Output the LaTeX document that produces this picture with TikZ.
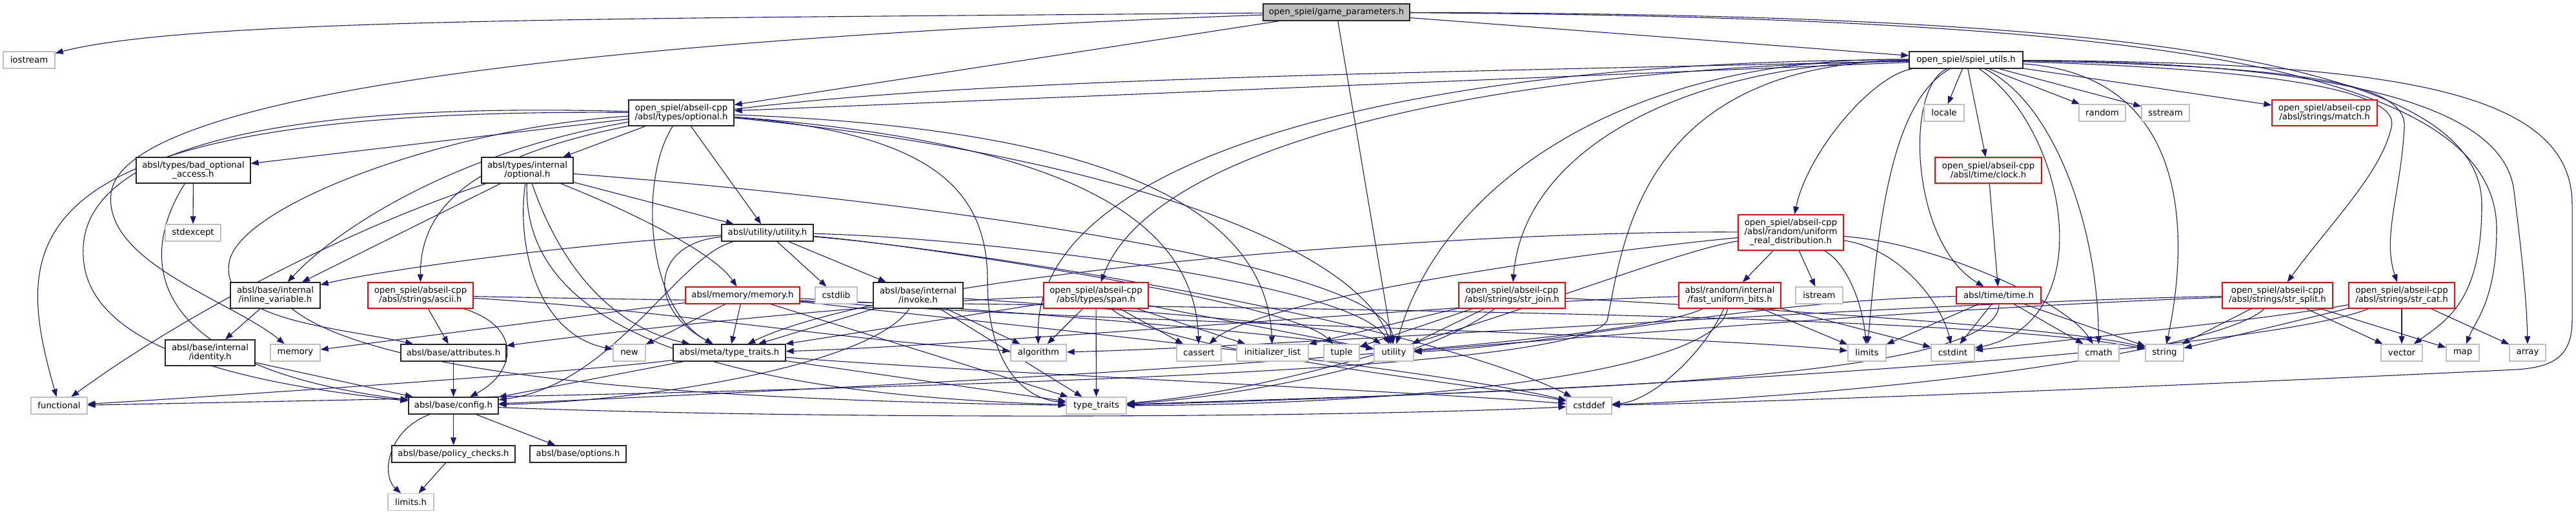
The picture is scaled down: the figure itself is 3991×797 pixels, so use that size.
\documentclass[tikz,border=0pt]{standalone}
\usepackage{fontspec}
\usepackage{tikz}
\usetikzlibrary{arrows.meta}
\newfontfamily\dotfont{DejaVu Sans}
\definecolor{edgeblue}{HTML}{191970}
\definecolor{sysgray}{HTML}{BFBFBF}
\definecolor{truncred}{HTML}{FF0000}
\pgfdeclarelayer{background}
\pgfsetlayers{background,main}

\begin{document}
\begin{tikzpicture}[x=1pt, y=1pt,
    file/.style={draw=black!85, line width=1.3pt, fill=white, inner sep=1pt, align=center,
      font=\dotfont\fontsize{13.3}{14}\selectfont, minimum height=26pt},
    sysfile/.style={file, draw=sysgray},
    trunc/.style={file, draw=truncred},
    rootfile/.style={file, fill=sysgray},
    dep/.style={draw=edgeblue, line width=1.1pt, -{Triangle[length=12pt,width=9pt]}}]
    \useasboundingbox (0,0) rectangle (3991,797);

    % top rows
    \node[rootfile, minimum width=227pt] (gp) at (2070.5,778) {open\_spiel/game\_parameters.h};
    \node[sysfile, minimum width=80pt] (iostream) at (45,704) {iostream};
    \node[file, minimum width=176pt] (su) at (3046,704) {open\_spiel/spiel\_utils.h};
    \node[file, minimum width=163pt, minimum height=40pt] (opt) at (1055.5,622) {open\_spiel/abseil-cpp\\/absl/types/optional.h};
    \node[sysfile, minimum width=62pt] (locale) at (3012,622) {locale};
    \node[sysfile, minimum width=72pt] (random) at (3257,622) {random};
    \node[sysfile, minimum width=74pt] (sstream) at (3355,622) {sstream};
    \node[trunc, minimum width=163pt, minimum height=40pt] (match) at (3601.5,622) {open\_spiel/abseil-cpp\\/absl/strings/match.h};
    \node[file, minimum width=177pt, minimum height=40pt] (bad) at (299.5,533) {absl/types/bad\_optional\\\_access.h};
    \node[file, minimum width=142pt, minimum height=40pt] (iopt) at (817,533) {absl/types/internal\\/optional.h};
    \node[trunc, minimum width=165pt, minimum height=40pt] (clock) at (3080.5,533) {open\_spiel/abseil-cpp\\/absl/time/clock.h};
    \node[sysfile, minimum width=86pt] (stdexcept) at (299,436) {stdexcept};
    \node[file, minimum width=142pt] (uh) at (1189,436) {absl/utility/utility.h};
    \node[trunc, minimum width=163pt, minimum height=55pt] (urd) at (2774.5,436.5) {open\_spiel/abseil-cpp\\/absl/random/uniform\\\_real\_distribution.h};

    % middle row
    \node[file, minimum width=139pt, minimum height=40pt] (inl) at (426.5,339) {absl/base/internal\\/inline\_variable.h};
    \node[trunc, minimum width=163pt, minimum height=40pt] (ascii) at (651.5,339) {open\_spiel/abseil-cpp\\/absl/strings/ascii.h};
    \node[trunc, minimum width=177pt] (mem) at (1150.5,339) {absl/memory/memory.h};
    \node[sysfile, minimum width=65pt] (cstdlib) at (1295.5,339) {cstdlib};
    \node[file, minimum width=139pt, minimum height=40pt] (inv) at (1422.5,339) {absl/base/internal\\/invoke.h};
    \node[trunc, minimum width=162pt, minimum height=40pt] (span) at (1698,339) {open\_spiel/abseil-cpp\\/absl/types/span.h};
    \node[trunc, minimum width=165pt, minimum height=40pt] (join) at (2342.5,339) {open\_spiel/abseil-cpp\\/absl/strings/str\_join.h};
    \node[trunc, minimum width=158pt, minimum height=40pt] (fub) at (2680,339) {absl/random/internal\\/fast\_uniform\_bits.h};
    \node[sysfile, minimum width=73pt] (istream) at (2818.5,339) {istream};
    \node[trunc, minimum width=131pt] (time) at (3096.5,339) {absl/time/time.h};
    \node[trunc, minimum width=171pt, minimum height=40pt] (split) at (3528.5,339) {open\_spiel/abseil-cpp\\/absl/strings/str\_split.h};
    \node[trunc, minimum width=164pt, minimum height=40pt] (cat) at (3721,339) {open\_spiel/abseil-cpp\\/absl/strings/str\_cat.h};

    % leaf row
    \node[file, minimum width=139pt, minimum height=40pt] (ident) at (325.5,250) {absl/base/internal\\/identity.h};
    \node[sysfile, minimum width=77pt] (memory) at (457.5,250) {memory};
    \node[file, minimum width=163pt] (attr) at (702.5,250) {absl/base/attributes.h};
    \node[sysfile, minimum width=50pt] (new) at (975,250) {new};
    \node[file, minimum width=174pt] (mtt) at (1130,250) {absl/meta/type\_traits.h};
    \node[sysfile, minimum width=86pt] (algorithm) at (1609,250) {algorithm};
    \node[sysfile, minimum width=69pt] (cassert) at (1857.5,250) {cassert};
    \node[sysfile, minimum width=111pt] (initlist) at (1971.5,250) {initializer\_list};
    \node[sysfile, minimum width=55pt] (tuple) at (2078.5,250) {tuple};
    \node[sysfile, minimum width=61pt] (utility) at (2159.5,250) {utility};
    \node[sysfile, minimum width=59pt] (limits) at (2892.5,250) {limits};
    \node[sysfile, minimum width=67pt] (cstdint) at (3025.5,250) {cstdint};
    \node[sysfile, minimum width=63pt] (cmath) at (3251.5,250) {cmath};
    \node[sysfile, minimum width=59pt] (string) at (3353.5,250) {string};
    \node[sysfile, minimum width=64pt] (vector) at (3721,250) {vector};
    \node[sysfile, minimum width=51pt] (map) at (3815.5,250) {map};
    \node[sysfile, minimum width=56pt] (array) at (3916,250) {array};

    % bottom rows
    \node[sysfile, minimum width=87pt] (functional) at (91.5,168) {functional};
    \node[file, minimum width=139pt] (config) at (702.5,168) {absl/base/config.h};
    \node[sysfile, minimum width=93pt] (tt) at (1698.5,168) {type\_traits};
    \node[sysfile, minimum width=70pt] (cstddef) at (2462,168) {cstddef};
    \node[file, minimum width=191pt] (policy) at (702.5,93) {absl/base/policy\_checks.h};
    \node[file, minimum width=149pt] (options) at (895.5,93) {absl/base/options.h};
    \node[sysfile, minimum width=71pt] (limitsh) at (636.5,18.5) {limits.h};

    \begin{pgfonlayer}{background}
    \fill[white] (0,0) rectangle (3991,797);
    % game_parameters.h
    \draw[dep] (gp) .. controls (1000,768) and (300,770) .. (iostream);
    \draw[dep] (gp) .. controls (900,735) and (190,650) .. (172,497) .. controls (160,390) and (360,330) .. (memory);
    \draw[dep] (gp) -- (opt);
    \draw[dep] (gp) -- (utility);
    \draw[dep] (gp) -- (su);
    \draw[dep] (gp) .. controls (3200,775) and (3845,720) .. (3845,480) .. controls (3845,330) and (3790,300) .. (vector);
    \draw[dep] (gp) .. controls (3300,770) and (3870,700) .. (3868,440) .. controls (3867,330) and (3835,300) .. (map);
    % spiel_utils.h
    \draw[dep] (su) -- (opt);
    \draw[dep] (su) .. controls (1300,665) and (650,665) .. (ascii);
    \draw[dep] (su) .. controls (2250,690) and (1780,560) .. (span);
    \draw[dep] (su) .. controls (2200,705) and (1600,560) .. (algorithm);
    \draw[dep] (su) .. controls (2600,700) and (2360,560) .. (join);
    \draw[dep] (su) .. controls (2500,710) and (2230,500) .. (utility);
    \draw[dep] (su) .. controls (2540,700) and (2515,420) .. (2490,300) .. controls (2450,220) and (1500,195) .. (functional);
    \draw[dep] (su) .. controls (2900,680) and (2800,560) .. (urd);
    \draw[dep] (su) -- (locale);
    \draw[dep] (su) -- (random);
    \draw[dep] (su) -- (sstream);
    \draw[dep] (su) -- (match);
    \draw[dep] (su) -- (clock);
    \draw[dep] (su) .. controls (2950,660) and (2960,420) .. (time);
    \draw[dep] (su) .. controls (3200,600) and (3260,300) .. (cstdint);
    \draw[dep] (su) .. controls (3180,640) and (3250,450) .. (cmath);
    \draw[dep] (su) .. controls (3400,680) and (3390,420) .. (string);
    \draw[dep] (su) .. controls (3500,690) and (3720,660) .. (3705,600) .. controls (3690,530) and (3610,450) .. (split);
    \draw[dep] (su) .. controls (3550,695) and (3730,670) .. (3725,600) .. controls (3720,500) and (3690,430) .. (cat);
    \draw[dep] (su) .. controls (3600,700) and (3880,640) .. (3895,500) .. controls (3905,420) and (3915,330) .. (array);
    \draw[dep] (su) .. controls (2930,640) and (2910,450) .. (limits);
    \draw[dep] (su) .. controls (3700,700) and (3985,660) .. (3985,480) -- (3985,300)
      .. controls (3985,240) and (3950,228) .. (3900,224) .. controls (3400,200) and (2800,175) .. (cstddef);
    % optional.h
    \draw[dep] (opt) -- (bad);
    \draw[dep] (opt) -- (iopt);
    \draw[dep] (opt) .. controls (0,630) and (20,420) .. (functional);
    \draw[dep] (opt) .. controls (400,640) and (120,560) .. (129,400) .. controls (135,250) and (400,200) .. (config);
    \draw[dep] (opt) .. controls (700,600) and (370,480) .. (355,390) .. controls (340,300) and (520,290) .. (attr);
    \draw[dep] (opt) .. controls (700,560) and (520,440) .. (inl);
    \draw[dep] (opt) -- (uh);
    \draw[dep] (opt) .. controls (1450,590) and (1530,500) .. (1530,360) .. controls (1530,240) and (1580,180) .. (tt);
    \draw[dep] (opt) .. controls (1600,580) and (1850,480) .. (cassert);
    \draw[dep] (opt) .. controls (1650,600) and (1960,500) .. (initlist);
    \draw[dep] (opt) .. controls (1700,560) and (2100,420) .. (utility);
    \draw[dep] (opt) .. controls (990,520) and (1000,320) .. (mtt);
    % bad_optional_access.h
    \draw[dep] (bad) -- (stdexcept);
    \draw[dep] (bad) .. controls (215,400) and (215,230) .. (config);
    % internal/optional.h
    \draw[dep] (iopt) .. controls (560,450) and (300,320) .. (functional);
    \draw[dep] (iopt) -- (inl);
    \draw[dep] (iopt) .. controls (800,420) and (830,280) .. (new);
    \draw[dep] (iopt) .. controls (810,330) and (1000,190) .. (tt);
    \draw[dep] (iopt) .. controls (870,380) and (950,290) .. (mtt);
    \draw[dep] (iopt) .. controls (1000,460) and (1110,400) .. (mem);
    \draw[dep] (iopt) -- (uh);
    \draw[dep] (iopt) .. controls (1500,480) and (2150,380) .. (utility);
    % utility.h
    \draw[dep] (uh) -- (cstdlib);
    \draw[dep] (uh) -- (inv);
    \draw[dep] (uh) .. controls (900,420) and (600,380) .. (inl);
    \draw[dep] (uh) .. controls (1010,420) and (1000,320) .. (mtt);
    \draw[dep] (uh) .. controls (1050,400) and (950,200) .. (config);
    \draw[dep] (uh) .. controls (1400,420) and (2000,330) .. (tuple);
    \draw[dep] (uh) .. controls (1500,430) and (2100,360) .. (utility);
    \draw[dep] (uh) .. controls (1500,410) and (2200,300) .. (cstddef);
    % inline_variable.h, identity.h, attributes.h
    \draw[dep] (inl) -- (ident);
    \draw[dep] (inl) .. controls (600,200) and (1200,175) .. (tt);
    \draw[dep] (ident) -- (config);
    \draw[dep] (attr) -- (config);
    % ascii.h
    \draw[dep] (ascii) -- (attr);
    \draw[dep] (ascii) .. controls (810,290) and (800,220) .. (config);
    \draw[dep] (ascii) .. controls (1000,320) and (1300,270) .. (algorithm);
    \draw[dep] (ascii) .. controls (1600,320) and (3000,320) .. (string);
    % memory.h
    \draw[dep] (mem) -- (memory);
    \draw[dep] (mem) -- (new);
    \draw[dep] (mem) -- (mtt);
    \draw[dep] (mem) -- (tt);
    \draw[dep] (mem) .. controls (1500,300) and (2200,230) .. (cstddef);
    \draw[dep] (mem) .. controls (1600,300) and (2600,280) .. (limits);
    \draw[dep] (mem) .. controls (1500,320) and (2000,280) .. (utility);
    % invoke.h
    \draw[dep] (inv) -- (mtt);
    \draw[dep] (inv) .. controls (1350,230) and (1000,175) .. (config);
    \draw[dep] (inv) -- (tt);
    \draw[dep] (inv) -- (algorithm);
    \draw[dep] (inv) .. controls (1700,320) and (2100,290) .. (utility);
    % span.h
    \draw[dep] (span) -- (mtt);
    \draw[dep] (span) -- (algorithm);
    \draw[dep] (span) -- (tt);
    \draw[dep] (span) -- (cassert);
    \draw[dep] (span) -- (initlist);
    \draw[dep] (span) .. controls (1800,250) and (2300,200) .. (cstddef);
    \draw[dep] (span) -- (utility);
    \draw[dep] (span) .. controls (1400,330) and (1000,290) .. (attr);
    % str_join.h
    \draw[dep] (join) -- (initlist);
    \draw[dep] (join) -- (tuple);
    \draw[dep] (join) -- (utility);
    \draw[dep] (join) .. controls (2200,230) and (1900,180) .. (tt);
    \draw[dep] (join) .. controls (2700,320) and (3200,290) .. (string);
    % uniform_real_distribution.h
    \draw[dep] (urd) -- (fub);
    \draw[dep] (urd) -- (istream);
    \draw[dep] (urd) .. controls (2860,390) and (2885,330) .. (limits);
    \draw[dep] (urd) .. controls (2300,440) and (1400,380) .. (mtt);
    \draw[dep] (urd) .. controls (2400,400) and (1950,330) .. (cassert);
    \draw[dep] (urd) .. controls (2550,400) and (2100,200) .. (tt);
    \draw[dep] (urd) .. controls (3000,420) and (3200,330) .. (cmath);
    \draw[dep] (urd) .. controls (2950,410) and (3010,320) .. (cstdint);
    % fast_uniform_bits.h
    \draw[dep] (fub) .. controls (2300,330) and (1500,260) .. (mtt);
    \draw[dep] (fub) .. controls (2500,250) and (1200,190) .. (config);
    \draw[dep] (fub) .. controls (2640,250) and (2560,175) .. (cstddef);
    \draw[dep] (fub) .. controls (2660,220) and (2200,170) .. (tt);
    \draw[dep] (fub) -- (limits);
    \draw[dep] (fub) -- (cstdint);
    % time.h, clock.h
    \draw[dep] (time) .. controls (2700,330) and (2400,260) .. (utility);
    \draw[dep] (time) -- (limits);
    \draw[dep] (time) -- (cstdint);
    \draw[dep] (time) -- (cmath);
    \draw[dep] (time) -- (string);
    \draw[dep] (time) .. controls (3100,200) and (2300,190) .. (tt);
    \draw[dep] (clock) -- (time);
    % str_split.h
    \draw[dep] (split) .. controls (3000,320) and (2400,270) .. (utility);
    \draw[dep] (split) .. controls (3000,330) and (2000,260) .. (algorithm);
    \draw[dep] (split) -- (string);
    \draw[dep] (split) .. controls (3450,260) and (3000,190) .. (cstddef);
    \draw[dep] (split) -- (vector);
    \draw[dep] (split) -- (map);
    % str_cat.h
    \draw[dep] (cat) .. controls (3500,300) and (3200,270) .. (cstdint);
    \draw[dep] (cat) -- (string);
    \draw[dep] (cat) .. controls (3500,250) and (2500,190) .. (tt);
    \draw[dep] (cat) -- (vector);
    \draw[dep] (cat) -- (array);
    % meta/type_traits.h
    \draw[dep] (mtt) -- (config);
    \draw[dep] (mtt) .. controls (900,220) and (300,180) .. (functional);
    \draw[dep] (mtt) -- (tt);
    \draw[dep] (mtt) .. controls (1500,220) and (2200,190) .. (cstddef);
    % config.h
    \draw[dep] (config) .. controls (600,130) and (590,60) .. (limitsh);
    \draw[dep] (config) -- (policy);
    \draw[dep] (config) -- (options);
    \draw[dep] (config) .. controls (1300,145) and (2100,150) .. (cstddef);
    \draw[dep] (policy) -- (limitsh);
    \end{pgfonlayer}
\end{tikzpicture}
\end{document}
